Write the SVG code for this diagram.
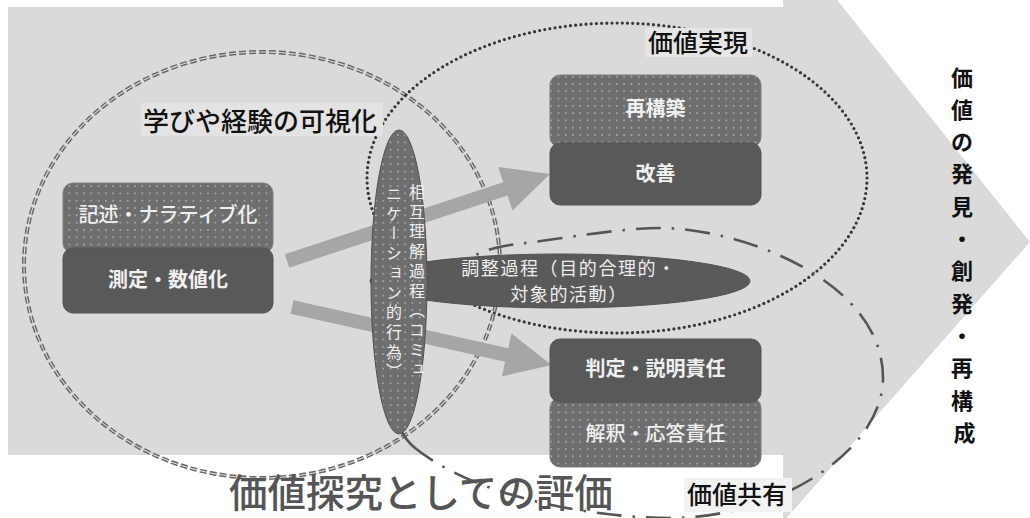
<svg xmlns="http://www.w3.org/2000/svg" width="1030" height="518" viewBox="0 0 1030 518">
<defs>
<pattern id="dotfill" width="7.3" height="7.3" patternUnits="userSpaceOnUse">
<rect width="7.3" height="7.3" fill="#6e6e6e"/>
<circle cx="3.6" cy="3.6" r="0.9" fill="#b2b2b2"/>
</pattern>
<style>
text { font-family: "Noto Sans CJK JP", "Noto Sans CJK SC", sans-serif; }
.bg-arrow { fill: #dadada; }
.flow { fill: #a6a6a6; }
.box-dark { fill: #595959; stroke: #555555; stroke-width: 1; }
.box-dot { fill: url(#dotfill); stroke: #7c7c7c; stroke-width: 1; }
.t-box { fill: #f0f0f0; font-size: 20px; text-anchor: middle; font-weight: 500; }
.t-bold { font-weight: 700; }
.t-label { fill: #111111; font-weight: 500; }
.t-in { fill: #eeeeee; font-size: 18px; letter-spacing: 1.6px; }
.t-vert { fill: #eeeeee; font-size: 16px; letter-spacing: 3.7px; writing-mode: vertical-rl; }
.ring-dash-out { fill: none; stroke: #666666; stroke-width: 4; stroke-dasharray: 7 3; }
.ring-dash-in { fill: none; stroke: #dcdcdc; stroke-width: 1.1; stroke-dasharray: 7 3; }
.ring-dot { fill: none; stroke: #363636; stroke-width: 3.2; stroke-linecap: round; stroke-dasharray: 0 5.2; }
.ring-dashdot { fill: none; stroke: #555555; stroke-width: 2.6; stroke-dasharray: 25 11 2.5 11; }
.side { fill: #111111; font-size: 22px; font-weight: 700; text-anchor: middle; }
</style>
</defs>

<rect width="1030" height="518" fill="#ffffff"/>
<polygon class="bg-arrow" points="8,7 783,7 783,-68 1030,242 783,522 783,455 8,455"/>

<g id="connectors">
<ellipse class="ring-dash-out" cx="262" cy="265" rx="238" ry="213"/>
<ellipse class="ring-dash-in" cx="262" cy="265" rx="238" ry="213"/>
<ellipse class="ring-dot" cx="617" cy="178" rx="250" ry="155"/>
<path class="ring-dashdot" d="M 415,448 C 395,432 388,400 392,370 C 396,320 440,255 510,245 C 560,239 620,228 660,228 C 740,228 883,280 883,378 C 883,450 780,518 670,518 C 600,518 480,500 415,448 Z"/>
<g transform="translate(287,261) rotate(-18.3)">
<polygon class="flow" points="0,-7 230,-7 230,-23 277,0 230,23 230,7 0,7"/>
</g>
<g transform="translate(292,307) rotate(12.6)">
<polygon class="flow" points="0,-7 220,-7 220,-22 266,0 220,22 220,7 0,7"/>
</g>
</g>

<g id="node-kijutsu">
<rect class="box-dot" x="63" y="183" width="210" height="70" rx="10"/>
<text class="t-box" x="168" y="222">記述・ナラティブ化</text>
</g>
<g id="node-sokutei">
<rect class="box-dark" x="63" y="248" width="210" height="65" rx="10"/>
<text class="t-box t-bold" x="168" y="287">測定・数値化</text>
</g>

<g id="node-saikouchiku">
<rect class="box-dot" x="550" y="75" width="211" height="72" rx="10"/>
<text class="t-box t-bold" x="655.5" y="116">再構築</text>
</g>
<g id="node-kaizen">
<rect class="box-dark" x="550" y="143" width="211" height="62" rx="10"/>
<text class="t-box t-bold" x="655.5" y="181">改善</text>
</g>

<g id="node-kaishaku">
<rect class="box-dot" x="550" y="398" width="211" height="69" rx="10"/>
<text class="t-box" x="655.5" y="441">解釈・応答責任</text>
</g>
<g id="node-hantei">
<rect class="box-dark" x="550" y="339" width="211" height="63" rx="10"/>
<text class="t-box t-bold" x="655.5" y="376">判定・説明責任</text>
</g>

<g id="node-chousei">
<ellipse cx="560" cy="281" rx="190" ry="27" fill="#5a5a5a" stroke="#505050" stroke-width="1"/>
<text class="t-in" x="569" y="275" text-anchor="middle">調整過程（目的合理的・</text>
<text class="t-in" x="569" y="301" text-anchor="middle">対象的活動）</text>
</g>

<g id="node-sougo">
<ellipse cx="399" cy="282" rx="28" ry="152" fill="url(#dotfill)" stroke="#505050" stroke-width="1"/>
<text class="t-vert" x="417" y="184">相互理解過程（コミュ</text>
<text class="t-vert" x="394" y="186">ニケーション的行為）</text>
</g>

<g id="label-kashika">
<rect x="141" y="103" width="242" height="33" fill="#e3e3e3"/>
<text class="t-label" x="143" y="131" font-size="26">学びや経験の可視化</text>
</g>
<g id="label-jitsugen">
<rect x="645" y="28" width="107" height="29" fill="#e6e6e6"/>
<text class="t-label" x="648" y="52" font-size="25">価値実現</text>
</g>
<g id="label-kyouyu">
<rect x="684" y="478" width="108" height="34" fill="#f2f2f2"/>
<text class="t-label" x="687" y="504" font-size="25">価値共有</text>
</g>
<g id="label-title">
<text x="229" y="506.5" font-size="38.5" font-weight="500" fill="#555555">価値探究としての評価</text>
</g>

<g id="label-side">
<text class="side">
<tspan x="964.5" y="85.5">価</tspan>
<tspan x="964.5" y="117.8">値</tspan>
<tspan x="964.5" y="150.1">の</tspan>
<tspan x="964.5" y="182.4">発</tspan>
<tspan x="964.5" y="214.7">見</tspan>
<tspan x="964.5" y="247">・</tspan>
<tspan x="964.5" y="279.3">創</tspan>
<tspan x="964.5" y="311.6">発</tspan>
<tspan x="964.5" y="343.9">・</tspan>
<tspan x="964.5" y="376.2">再</tspan>
<tspan x="964.5" y="408.5">構</tspan>
<tspan x="964.5" y="440.8">成</tspan>
</text>
</g>
</svg>
